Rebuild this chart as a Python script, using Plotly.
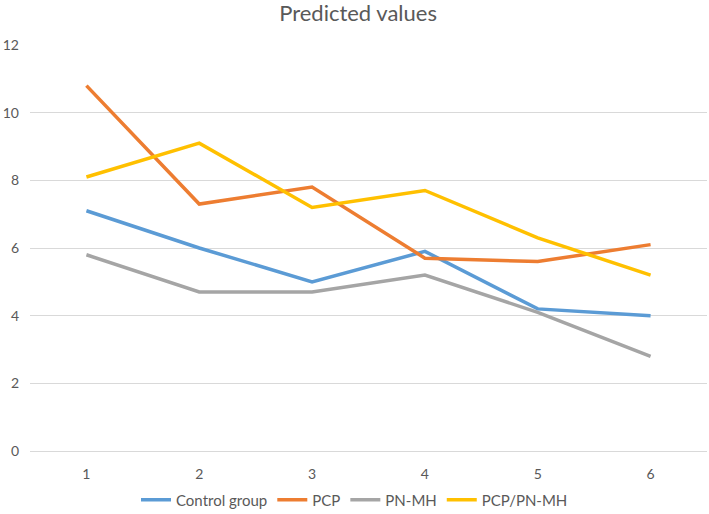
import plotly.graph_objects as go

x_labels = [1, 2, 3, 4, 5, 6]
control_group = [7.1, 6.0, 5.0, 5.9, 4.2, 4.0]
pcp = [10.8, 7.3, 7.8, 5.7, 5.6, 6.1]
pn_mh = [5.8, 4.7, 4.7, 5.2, 4.1, 2.8]
pcp_pn_mh = [8.1, 9.1, 7.2, 7.7, 6.3, 5.2]

series = [
    ("Control group", control_group, "#5B9BD5"),
    ("PCP", pcp, "#ED7D31"),
    ("PN-MH", pn_mh, "#A5A5A5"),
    ("PCP/PN-MH", pcp_pn_mh, "#FFC000"),
]

FONT = "Lato, 'Open Sans', sans-serif"
TXT = "#595959"

fig = go.Figure()
for name, vals, color in series:
    fig.add_trace(go.Scatter(
        x=x_labels, y=vals, name=name, mode="lines",
        line=dict(color=color, width=3.5),
    ))

fig.update_layout(
    width=709, height=514,
    margin=dict(l=29.5, r=1.5, t=45, b=63),
    paper_bgcolor="white", plot_bgcolor="white",
    font=dict(family=FONT, color=TXT, size=14),
    title=dict(text="Predicted values", x=0.505, xref="container", xanchor="center",
               y=1 - 13 / 514, yref="container", yanchor="middle",
               font=dict(family=FONT, size=22, color=TXT)),
    showlegend=True,
    legend=dict(orientation="h", xref="container", yref="container",
                x=0.5, xanchor="center", y=1 - 500 / 514, yanchor="middle",
                font=dict(family=FONT, size=15, color=TXT),
                itemwidth=30, tracegroupgap=0),
    xaxis=dict(range=[0.5, 6.5], tickvals=x_labels, ticktext=[str(v) for v in x_labels],
               showgrid=False, zeroline=False, showline=True, linecolor="#D9D9D9",
               linewidth=1, ticks="", ticklabelstandoff=10,
               tickfont=dict(family=FONT, size=14, color=TXT), fixedrange=True),
    yaxis=dict(range=[0, 12], dtick=2, tick0=0, showgrid=True, gridcolor="#D9D9D9",
               gridwidth=1, zeroline=True, zerolinecolor="#D9D9D9", zerolinewidth=1,
               showline=False, ticks="", ticklabelstandoff=10,
               tickfont=dict(family=FONT, size=14, color=TXT), fixedrange=True),
)

fig.write_html("out.html", config={"displayModeBar": False},
               post_script="document.body.style.margin='0';document.body.style.overflow='hidden';")
